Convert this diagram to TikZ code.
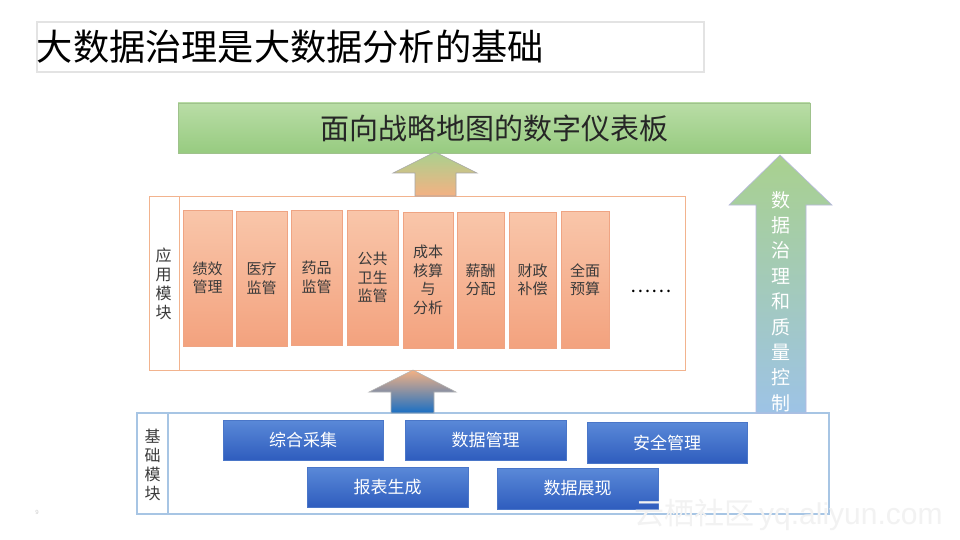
\documentclass[tikz,border=0pt]{standalone}
\usepackage{fontspec}
\setmainfont{Noto Sans CJK SC}
\newfontfamily\latinsans{Liberation Sans}
\definecolor{titlebd}{HTML}{E3E3E3}
\definecolor{greenA}{HTML}{B9DDA6}
\definecolor{greenB}{HTML}{97CB80}
\definecolor{greenbd}{HTML}{9FC28C}
\definecolor{orgA}{HTML}{F9C6AA}
\definecolor{orgB}{HTML}{F3A27E}
\definecolor{orgbd}{HTML}{EFA483}
\definecolor{appbd}{HTML}{F2B38E}
\definecolor{basebd}{HTML}{A7C5E4}
\definecolor{bluA}{HTML}{5A89D8}
\definecolor{bluB}{HTML}{2F5DBE}
\definecolor{blubd}{HTML}{4A76C8}
\definecolor{arrGreen}{HTML}{A9D18E}
\definecolor{arrOrange}{HTML}{F4B183}
\definecolor{arrBlue}{HTML}{1A6FC4}
\definecolor{arrLBlue}{HTML}{9DC3E6}
\definecolor{txt}{HTML}{3A3A3A}
\tikzset{
  orgbox/.style={draw=orgbd, line width=0.6pt, top color=orgA, bottom color=orgB,
    inner sep=0pt, align=center, text=txt, font=\fontsize{15}{18.5}\selectfont},
  blubox/.style={draw=blubd, line width=0.6pt, top color=bluA, bottom color=bluB,
    inner sep=0pt, align=center, text=white, font=\fontsize{17}{20}\selectfont,
    minimum height=40pt},
  vlabel/.style={inner sep=0pt, align=center, text=txt, font=\fontsize{16}{19}\selectfont},
  blockarrow/.style={line width=0.6pt}
}
\begin{document}
\begin{tikzpicture}[x=1pt,y=-1pt]
\useasboundingbox[fill=white] (0,0) rectangle (960,540);

% title
\node[draw=titlebd, line width=2.5pt, minimum width=667pt, minimum height=50pt, inner sep=0pt] (title) at (370.5,47) {};
\node[anchor=west, inner sep=0pt, font=\fontsize{36.2}{36}\selectfont] (titletext) at ([xshift=1pt]title.west) {大数据治理是大数据分析的基础};

% top bar
\node[draw=greenbd, line width=0.6pt, top color=greenA, bottom color=greenB, minimum width=632pt, minimum height=50pt, inner sep=0pt,
  font=\fontsize{29}{29}\selectfont, text=black!85] (dash) at (494,128) {面向战略地图的数字仪表板};

% application module
\node[draw=appbd, line width=1pt, minimum width=536pt, minimum height=174pt, inner sep=0pt] (app) at (417,283) {};
\draw[appbd, line width=1pt] (179,196) -- (179,370);
\node[vlabel] (applabel) at (163.5,284) {应\\用\\模\\块};

\node[orgbox, minimum width=49pt, minimum height=136pt] (o1) at (207.5,278) {绩效\\管理};
\node[orgbox, minimum width=51pt, minimum height=135pt] (o2) at (261.5,278.5) {医疗\\监管};
\node[orgbox, minimum width=51pt, minimum height=135pt] (o3) at (316.5,277.5) {药品\\监管};
\node[orgbox, minimum width=51pt, minimum height=135pt] (o4) at (372.5,277.5) {公共\\卫生\\监管};
\node[orgbox, minimum width=50pt, minimum height=136pt] (o5) at (428,280) {成本\\核算\\与\\分析};
\node[orgbox, minimum width=47pt, minimum height=136pt] (o6) at (480.5,280) {薪酬\\分配};
\node[orgbox, minimum width=47pt, minimum height=136pt] (o7) at (532.5,280) {财政\\补偿};
\node[orgbox, minimum width=48pt, minimum height=137pt] (o8) at (585,279.5) {全面\\预算};
\node[inner sep=0pt, font=\fontsize{19}{19}\selectfont] (dots) at (651,291) {……};

% base module
\node[draw=basebd, line width=1.2pt, minimum width=692pt, minimum height=101pt, inner sep=0pt] (base) at (483,463.5) {};
\draw[basebd, line width=1.2pt] (168,413) -- (168,514);
\node[vlabel] (baselabel) at (152.5,465) {基\\础\\模\\块};

\node[blubox, minimum width=160pt] (b1) at (303,440) {综合采集};
\node[blubox, minimum width=161pt] (b2) at (485.5,440) {数据管理};
\node[blubox, minimum width=160pt, minimum height=41pt] (b3) at (667,442.5) {安全管理};
\node[blubox, minimum width=161pt] (b4) at (387.5,487) {报表生成};
\node[blubox, minimum width=161pt, minimum height=41pt] (b5) at (577.5,488.5) {数据展现};

% arrow app -> dashboard
\path[blockarrow, draw=gray!70, top color=arrGreen, bottom color=arrOrange]
  (435,152) -- (477,173) -- (456,173) -- (456,196) -- (415,196) -- (415,173) -- (393,173) -- cycle;
% arrow base -> app
\path[blockarrow, draw=gray!60, top color=arrOrange, bottom color=arrBlue]
  (413,370) -- (456,392) -- (434,392) -- (434,413) -- (391,413) -- (391,392) -- (369,392) -- cycle;
% big right arrow base -> dashboard
\path[blockarrow, draw=gray!60!blue!40, top color=arrGreen, bottom color=arrLBlue]
  (780,155) -- (832,205) -- (806,205) -- (806,413) -- (756,413) -- (756,205) -- (729,205) -- cycle;
\node[inner sep=0pt, align=center, text=white, font=\fontsize{19}{25.4}\selectfont] (govlabel) at (781,301.5)
  {数\\据\\治\\理\\和\\质\\量\\控\\制};

% page number and watermark
\node[inner sep=0pt, text=gray!40, font=\latinsans\fontsize{6}{6}\selectfont] (pnum) at (37,512) {9};
\node[anchor=west, inner sep=0pt, text=gray!10, font=\fontsize{30}{30}\selectfont] (wm) at (634,515) {云栖社区\,{\latinsans yq.aliyun.com}};
\end{tikzpicture}
\end{document}
